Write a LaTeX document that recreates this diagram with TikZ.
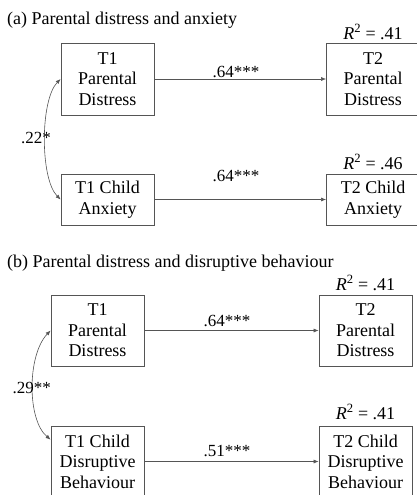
\documentclass[tikz,border=0pt]{standalone}
\usepackage{fontspec}
\setmainfont{Liberation Serif}
\usetikzlibrary{arrows.meta}
\definecolor{linegray}{HTML}{555555}
\begin{document}
\begin{tikzpicture}[x=1pt,y=-1pt,
  every node/.style={font=\fontsize{18}{20.5}\selectfont, inner sep=0pt},
  box/.style={draw=linegray, line width=0.8pt, minimum width=93pt, align=center},
  conn/.style={draw=linegray, line width=0.6pt, -{Latex[length=5pt,width=4pt]}},
  biconn/.style={draw=linegray, line width=0.6pt, {Latex[length=5pt,width=4pt]}-{Latex[length=5pt,width=4pt]}},
  lbl/.style={font=\fontsize{17}{20}\selectfont}]
\clip (0,0) rectangle (417,495);
% (a)
\node[anchor=west] (ta) at (7,20) {(a) Parental distress and anxiety};
\node[box, minimum height=72pt] (a1) at (107.5,79) {T1\\Parental\\Distress};
\node[box, minimum height=72pt] (a2) at (373,79) {T2\\Parental\\Distress};
\node[box, minimum height=51pt] (a3) at (107.5,199.5) {T1 Child\\Anxiety};
\node[box, minimum height=51pt] (a4) at (373,199.5) {T2 Child\\Anxiety};
\node (ra1) at (373,32) {\textit{R}\textsuperscript{2} = .41};
\node (ra2) at (373,162) {\textit{R}\textsuperscript{2} = .46};
\draw[conn] (a1.east) -- (a2.west);
\draw[conn] (a3.east) -- (a4.west);
\node[lbl] (la1) at (236,72) {.64***};
\node[lbl] (la2) at (236,176) {.64***};
\draw[biconn] (a1.west) .. controls (40,100) and (40,179) .. (a3.west);
\node[lbl, anchor=east] (ca) at (51,138) {.22*};
% (b)
\node[anchor=west] (tb) at (7,263) {(b) Parental distress and disruptive behaviour};
\node[box, minimum height=71pt] (b1) at (97.5,330.5) {T1\\Parental\\Distress};
\node[box, minimum height=71pt] (b2) at (365.5,330.5) {T2\\Parental\\Distress};
\node[box, minimum height=71pt] (b3) at (97.5,461.5) {T1 Child\\Disruptive\\Behaviour};
\node[box, minimum height=71pt] (b4) at (365.5,461.5) {T2 Child\\Disruptive\\Behaviour};
\node (rb1) at (365.5,283) {\textit{R}\textsuperscript{2} = .41};
\node (rb2) at (365.5,412) {\textit{R}\textsuperscript{2} = .41};
\draw[conn] (b1.east) -- (b2.west);
\draw[conn] (b3.east) -- (b4.west);
\node[lbl] (lb1) at (227,321) {.64***};
\node[lbl] (lb2) at (227,451) {.51***};
\coordinate (b3in) at ([yshift=-14pt]b3.north west);
\draw[biconn] (b1.west) .. controls (27,355) and (27,420) .. (b3in);
\node[lbl, anchor=east] (cb) at (51,388) {.29**};
\end{tikzpicture}
\end{document}
